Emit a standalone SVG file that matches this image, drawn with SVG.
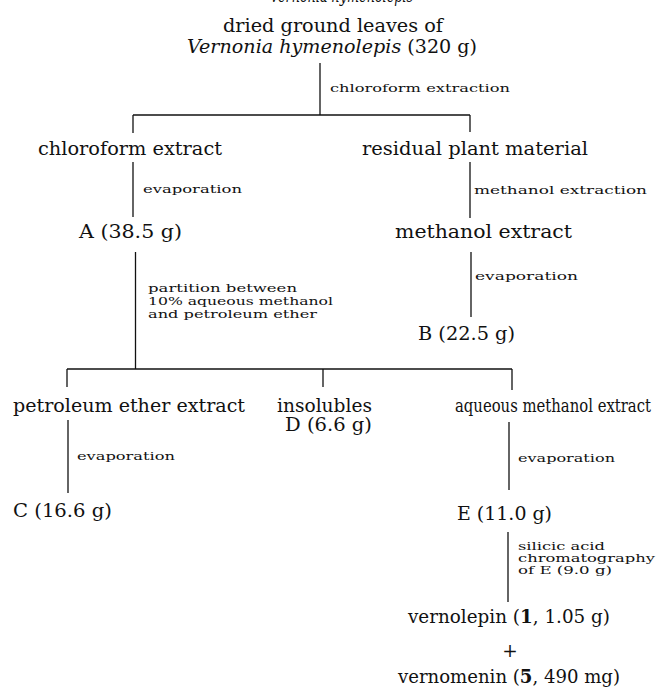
<svg xmlns="http://www.w3.org/2000/svg" width="656" height="699" viewBox="0 0 656 699">
<style>
  .m { font-family: "DejaVu Serif", "Liberation Serif", serif; font-size: 18.5px; fill: #111; }
  .s { font-family: "DejaVu Serif", "Liberation Serif", serif; font-size: 11.5px; fill: #111; }
  .i { font-style: italic; }
  .b { font-weight: bold; }
  .c line { stroke: #111; stroke-width: 1.3; fill: none; }
</style>
<rect width="656" height="699" fill="#fff"/>
<g id="title"><text class="m i" x="270" y="2" font-size="15" textLength="143" lengthAdjust="spacingAndGlyphs">Vernonia hymenolepis</text></g>
<g id="n-leaves">
  <text class="m" x="223" y="32" textLength="220" lengthAdjust="spacingAndGlyphs">dried ground leaves of</text>
  <text class="m" x="187" y="53" textLength="290" lengthAdjust="spacingAndGlyphs"><tspan class="i">Vernonia hymenolepis</tspan> (320 g)</text>
</g>
<g id="n-chloroform-extract"><text class="m" x="38" y="155" textLength="184" lengthAdjust="spacingAndGlyphs">chloroform extract</text></g>
<g id="n-residual"><text class="m" x="362" y="155" textLength="226" lengthAdjust="spacingAndGlyphs">residual plant material</text></g>
<g id="n-A"><text class="m" x="79" y="238" textLength="103" lengthAdjust="spacingAndGlyphs">A (38.5 g)</text></g>
<g id="n-methanol-extract"><text class="m" x="395" y="238" textLength="177" lengthAdjust="spacingAndGlyphs">methanol extract</text></g>
<g id="n-B"><text class="m" x="418" y="340" textLength="97" lengthAdjust="spacingAndGlyphs">B (22.5 g)</text></g>
<g id="n-petroleum"><text class="m" x="13" y="412" textLength="232" lengthAdjust="spacingAndGlyphs">petroleum ether extract</text></g>
<g id="n-D">
  <text class="m" x="277" y="412" textLength="95" lengthAdjust="spacingAndGlyphs">insolubles</text>
  <text class="m" x="285" y="431" textLength="87" lengthAdjust="spacingAndGlyphs">D (6.6 g)</text>
</g>
<g id="n-aqueous"><text class="m" x="455" y="412" font-size="16.5" textLength="196" lengthAdjust="spacingAndGlyphs">aqueous methanol extract</text></g>
<g id="n-C"><text class="m" x="13" y="517" textLength="99" lengthAdjust="spacingAndGlyphs">C (16.6 g)</text></g>
<g id="n-E"><text class="m" x="457" y="520" textLength="95" lengthAdjust="spacingAndGlyphs">E (11.0 g)</text></g>
<g id="n-products">
  <text class="m" x="408" y="623" textLength="202" lengthAdjust="spacingAndGlyphs">vernolepin (<tspan class="b">1</tspan>, 1.05 g)</text>
  <text class="m" x="510" y="657" text-anchor="middle" font-size="22">+</text>
  <text class="m" x="398" y="683" textLength="222" lengthAdjust="spacingAndGlyphs">vernomenin (<tspan class="b">5</tspan>, 490 mg)</text>
</g>
<g id="connectors" class="c">
  <line x1="320" y1="63" x2="320" y2="115"/>
  <line x1="133" y1="115" x2="470" y2="115"/>
  <line x1="133" y1="115" x2="133" y2="133"/>
  <line x1="470" y1="115" x2="470" y2="132"/>
  <line x1="133" y1="162" x2="133" y2="217"/>
  <line x1="470" y1="162" x2="470" y2="218"/>
  <line x1="135.5" y1="252" x2="135.5" y2="369"/>
  <line x1="471" y1="252" x2="471" y2="317"/>
  <line x1="67" y1="369" x2="512" y2="369"/>
  <line x1="67" y1="369" x2="67" y2="387"/>
  <line x1="323" y1="369" x2="323" y2="387"/>
  <line x1="512" y1="369" x2="512" y2="390"/>
  <line x1="68" y1="420" x2="68" y2="493"/>
  <line x1="509" y1="422" x2="509" y2="490"/>
  <line x1="508" y1="532" x2="508" y2="602"/>
</g>
<g id="labels">
  <text class="s" x="330" y="92" textLength="180" lengthAdjust="spacingAndGlyphs">chloroform extraction</text>
  <text class="s" x="143" y="193" textLength="99" lengthAdjust="spacingAndGlyphs">evaporation</text>
  <text class="s" x="474" y="194" textLength="173" lengthAdjust="spacingAndGlyphs">methanol extraction</text>
  <text class="s" x="475" y="280" textLength="103" lengthAdjust="spacingAndGlyphs">evaporation</text>
  <text class="s" x="148" y="292" textLength="149" lengthAdjust="spacingAndGlyphs">partition between</text>
  <text class="s" x="148" y="305" textLength="185" lengthAdjust="spacingAndGlyphs">10% aqueous methanol</text>
  <text class="s" x="148" y="318" textLength="169" lengthAdjust="spacingAndGlyphs">and petroleum ether</text>
  <text class="s" x="77" y="460" textLength="98" lengthAdjust="spacingAndGlyphs">evaporation</text>
  <text class="s" x="518" y="462" textLength="97" lengthAdjust="spacingAndGlyphs">evaporation</text>
  <text class="s" x="518" y="550" textLength="87" lengthAdjust="spacingAndGlyphs">silicic acid</text>
  <text class="s" x="518" y="562" textLength="137" lengthAdjust="spacingAndGlyphs">chromatography</text>
  <text class="s" x="518" y="574" textLength="94" lengthAdjust="spacingAndGlyphs">of E (9.0 g)</text>
</g>
</svg>
